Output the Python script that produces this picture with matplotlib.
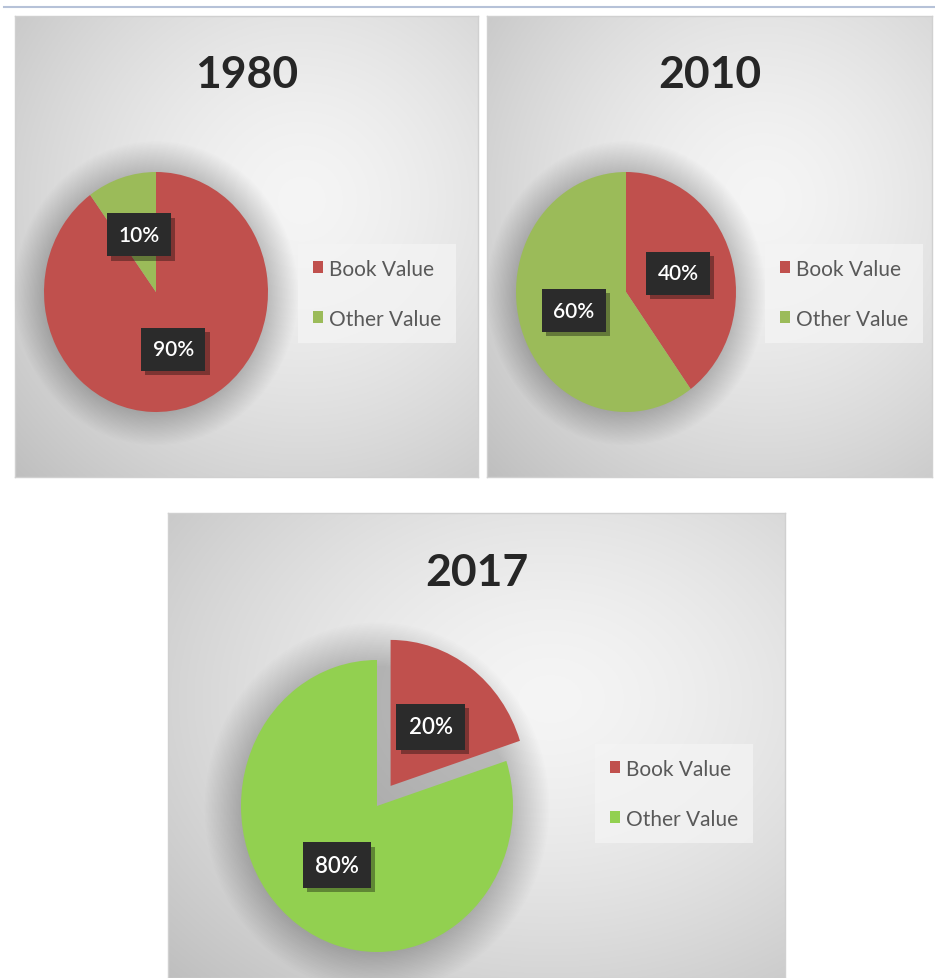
import numpy as np
import matplotlib.pyplot as plt
import matplotlib.patheffects as pe
from matplotlib.patches import Patch, Circle
from matplotlib.lines import Line2D

plt.rcParams['font.family'] = ['Lato', 'DejaVu Sans']

# data
years = ['1980', '2010', '2017']
categories = ['Book Value', 'Other Value']
book_value = [90, 40, 20]
other_value = [10, 60, 80]
explode_book = [0, 0, 0.17]

red = '#C0504D'
greens = ['#9BBB59', '#9BBB59', '#92D050']

W, H = 935, 979
fig = plt.figure(figsize=(W / 100, H / 100), dpi=100)
fig.patch.set_facecolor('white')


def rect(x0, y0, x1, y1):
    # pixel box (origin top-left) -> figure fraction [l, b, w, h]
    return [x0 / W, 1 - y1 / H, (x1 - x0) / W, (y1 - y0) / H]


# layout in pixels
panels = [(15, 17, 478, 478), (487, 17, 932, 478), (168, 514, 785, 979)]
pies = [(156, 293, 112, 120), (626, 293, 110, 120), (377, 807, 136, 146)]
legends = [(298, 245), (765, 245), (595, 745)]
title_y = [75, 75, 573]

# top rule
fig.add_artist(Line2D([0.004, 1.0], [1 - 8 / H] * 2, color='#b6c2d8', lw=1.5))

# background gradient
yy, xx = np.mgrid[0:1:300j, 0:1:300j]

for i, yr in enumerate(years):
    x0, y0, x1, y1 = panels[i]
    bg = fig.add_axes(rect(x0, y0, x1, y1))
    d = np.sqrt((xx - 0.62) ** 2 + (yy - 0.40) ** 2) / 0.8
    v = 0.96 - 0.19 * np.clip(d, 0, 1.2) ** 1.5
    img = np.dstack([v, v, v])
    bg.imshow(img, extent=(0, 1, 0, 1), origin='upper', aspect='auto')
    bg.set_xticks([])
    bg.set_yticks([])
    for s in bg.spines.values():
        s.set_color('#d0d0d0')
        s.set_linewidth(1)
    bg.text(0.5 * (x0 + x1) / W, 1 - title_y[i] / H, yr, transform=fig.transFigure,
            ha='center', va='center', fontsize=32, fontweight='bold', color='#262626')

    # pie
    cx, cy, rx, ry = pies[i]
    L = 1.35
    ax = fig.add_axes(rect(cx - L * rx, cy - L * ry, cx + L * rx, cy + L * ry))
    ax.patch.set_alpha(0)
    # soft shadow
    for k in range(28):
        ax.add_patch(Circle((0.0, -0.01), 0.97 + 0.011 * k, color='black', alpha=0.007,
                            lw=0, zorder=0))
    vals = [book_value[i], other_value[i]]
    wedges, texts, autotexts = ax.pie(
        vals, colors=[red, greens[i]], startangle=90, counterclock=False,
        explode=[explode_book[i], 0], autopct='%1.0f%%', pctdistance=0.5,
        wedgeprops=dict(linewidth=0, zorder=2),
        textprops=dict(color='white', fontsize=15 if i < 2 else 16,
                       fontweight='semibold', zorder=5))
    ax.set_aspect('auto')
    ax.set_xlim(-L, L)
    ax.set_ylim(-L, L)
    ax.axis('off')
    for t in autotexts:
        t.set_bbox(dict(boxstyle='square,pad=0.55', fc='#2b2b2b', ec='none'))
        t.get_bbox_patch().set_path_effects([
            pe.SimplePatchShadow(offset=(3, -3), shadow_rgbFace='black', alpha=0.35),
            pe.Normal()])

    # legend
    lx, ly = legends[i]
    handles = [Patch(facecolor=red), Patch(facecolor=greens[i])]
    leg = fig.legend(handles, categories, loc='upper left',
                     bbox_to_anchor=(lx / W, 1 - ly / H), bbox_transform=fig.transFigure,
                     fontsize=15, frameon=True, fancybox=False, borderpad=0.7,
                     labelspacing=1.45, handlelength=0.5, handleheight=0.5,
                     handletextpad=0.3, borderaxespad=0)
    frame = leg.get_frame()
    frame.set_facecolor('#f4f4f4')
    frame.set_alpha(0.75)
    frame.set_edgecolor('none')
    for txt in leg.get_texts():
        txt.set_color('#595959')

fig.savefig('out.png', dpi=100)
